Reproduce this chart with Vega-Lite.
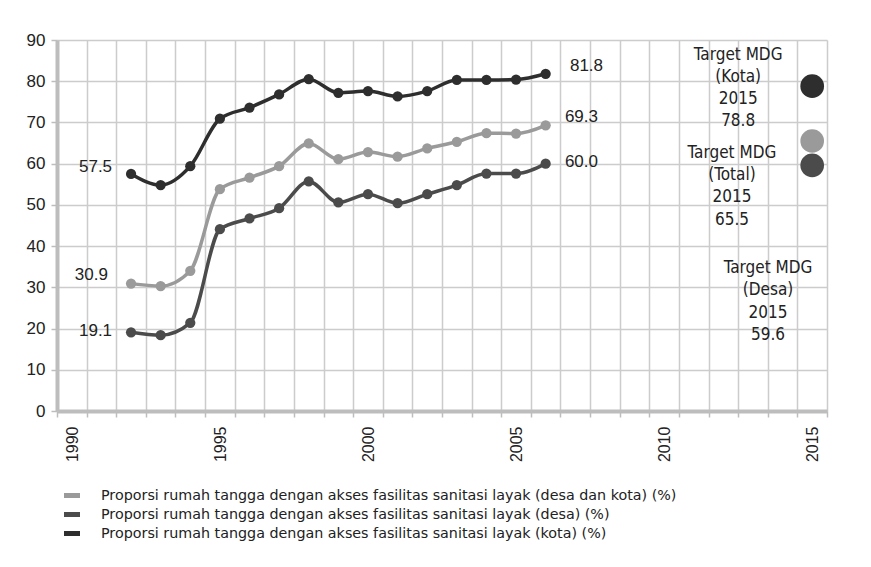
{
  "$schema": "https://vega.github.io/schema/vega-lite/v6.json",
  "width": 770,
  "height": 371,
  "autosize": {"type": "none"},
  "padding": {"left": 57, "top": 40, "right": 44, "bottom": 156},
  "background": "white",
  "datasets": {
    "series": [
      {"series": "Proporsi rumah tangga dengan akses fasilitas sanitasi layak (desa dan kota) (%)", "year": 1992, "value": 30.9},
      {"series": "Proporsi rumah tangga dengan akses fasilitas sanitasi layak (desa dan kota) (%)", "year": 1993, "value": 30.3},
      {"series": "Proporsi rumah tangga dengan akses fasilitas sanitasi layak (desa dan kota) (%)", "year": 1994, "value": 34.0},
      {"series": "Proporsi rumah tangga dengan akses fasilitas sanitasi layak (desa dan kota) (%)", "year": 1995, "value": 53.8},
      {"series": "Proporsi rumah tangga dengan akses fasilitas sanitasi layak (desa dan kota) (%)", "year": 1996, "value": 56.6},
      {"series": "Proporsi rumah tangga dengan akses fasilitas sanitasi layak (desa dan kota) (%)", "year": 1997, "value": 59.4},
      {"series": "Proporsi rumah tangga dengan akses fasilitas sanitasi layak (desa dan kota) (%)", "year": 1998, "value": 64.9},
      {"series": "Proporsi rumah tangga dengan akses fasilitas sanitasi layak (desa dan kota) (%)", "year": 1999, "value": 61.1},
      {"series": "Proporsi rumah tangga dengan akses fasilitas sanitasi layak (desa dan kota) (%)", "year": 2000, "value": 62.8},
      {"series": "Proporsi rumah tangga dengan akses fasilitas sanitasi layak (desa dan kota) (%)", "year": 2001, "value": 61.7},
      {"series": "Proporsi rumah tangga dengan akses fasilitas sanitasi layak (desa dan kota) (%)", "year": 2002, "value": 63.7},
      {"series": "Proporsi rumah tangga dengan akses fasilitas sanitasi layak (desa dan kota) (%)", "year": 2003, "value": 65.3},
      {"series": "Proporsi rumah tangga dengan akses fasilitas sanitasi layak (desa dan kota) (%)", "year": 2004, "value": 67.4},
      {"series": "Proporsi rumah tangga dengan akses fasilitas sanitasi layak (desa dan kota) (%)", "year": 2005, "value": 67.3},
      {"series": "Proporsi rumah tangga dengan akses fasilitas sanitasi layak (desa dan kota) (%)", "year": 2006, "value": 69.3},
      {"series": "Proporsi rumah tangga dengan akses fasilitas sanitasi layak (desa) (%)", "year": 1992, "value": 19.1},
      {"series": "Proporsi rumah tangga dengan akses fasilitas sanitasi layak (desa) (%)", "year": 1993, "value": 18.4},
      {"series": "Proporsi rumah tangga dengan akses fasilitas sanitasi layak (desa) (%)", "year": 1994, "value": 21.4},
      {"series": "Proporsi rumah tangga dengan akses fasilitas sanitasi layak (desa) (%)", "year": 1995, "value": 44.1},
      {"series": "Proporsi rumah tangga dengan akses fasilitas sanitasi layak (desa) (%)", "year": 1996, "value": 46.7},
      {"series": "Proporsi rumah tangga dengan akses fasilitas sanitasi layak (desa) (%)", "year": 1997, "value": 49.2},
      {"series": "Proporsi rumah tangga dengan akses fasilitas sanitasi layak (desa) (%)", "year": 1998, "value": 55.7},
      {"series": "Proporsi rumah tangga dengan akses fasilitas sanitasi layak (desa) (%)", "year": 1999, "value": 50.6},
      {"series": "Proporsi rumah tangga dengan akses fasilitas sanitasi layak (desa) (%)", "year": 2000, "value": 52.6},
      {"series": "Proporsi rumah tangga dengan akses fasilitas sanitasi layak (desa) (%)", "year": 2001, "value": 50.4},
      {"series": "Proporsi rumah tangga dengan akses fasilitas sanitasi layak (desa) (%)", "year": 2002, "value": 52.6},
      {"series": "Proporsi rumah tangga dengan akses fasilitas sanitasi layak (desa) (%)", "year": 2003, "value": 54.8},
      {"series": "Proporsi rumah tangga dengan akses fasilitas sanitasi layak (desa) (%)", "year": 2004, "value": 57.6},
      {"series": "Proporsi rumah tangga dengan akses fasilitas sanitasi layak (desa) (%)", "year": 2005, "value": 57.6},
      {"series": "Proporsi rumah tangga dengan akses fasilitas sanitasi layak (desa) (%)", "year": 2006, "value": 60.0},
      {"series": "Proporsi rumah tangga dengan akses fasilitas sanitasi layak (kota) (%)", "year": 1992, "value": 57.5},
      {"series": "Proporsi rumah tangga dengan akses fasilitas sanitasi layak (kota) (%)", "year": 1993, "value": 54.8},
      {"series": "Proporsi rumah tangga dengan akses fasilitas sanitasi layak (kota) (%)", "year": 1994, "value": 59.4},
      {"series": "Proporsi rumah tangga dengan akses fasilitas sanitasi layak (kota) (%)", "year": 1995, "value": 70.9},
      {"series": "Proporsi rumah tangga dengan akses fasilitas sanitasi layak (kota) (%)", "year": 1996, "value": 73.6},
      {"series": "Proporsi rumah tangga dengan akses fasilitas sanitasi layak (kota) (%)", "year": 1997, "value": 76.8},
      {"series": "Proporsi rumah tangga dengan akses fasilitas sanitasi layak (kota) (%)", "year": 1998, "value": 80.5},
      {"series": "Proporsi rumah tangga dengan akses fasilitas sanitasi layak (kota) (%)", "year": 1999, "value": 77.2},
      {"series": "Proporsi rumah tangga dengan akses fasilitas sanitasi layak (kota) (%)", "year": 2000, "value": 77.6},
      {"series": "Proporsi rumah tangga dengan akses fasilitas sanitasi layak (kota) (%)", "year": 2001, "value": 76.3},
      {"series": "Proporsi rumah tangga dengan akses fasilitas sanitasi layak (kota) (%)", "year": 2002, "value": 77.6},
      {"series": "Proporsi rumah tangga dengan akses fasilitas sanitasi layak (kota) (%)", "year": 2003, "value": 80.3},
      {"series": "Proporsi rumah tangga dengan akses fasilitas sanitasi layak (kota) (%)", "year": 2004, "value": 80.3},
      {"series": "Proporsi rumah tangga dengan akses fasilitas sanitasi layak (kota) (%)", "year": 2005, "value": 80.4},
      {"series": "Proporsi rumah tangga dengan akses fasilitas sanitasi layak (kota) (%)", "year": 2006, "value": 81.8}
    ],
    "targets": [
      {"series": "Proporsi rumah tangga dengan akses fasilitas sanitasi layak (kota) (%)", "year": 2015, "value": 78.8},
      {"series": "Proporsi rumah tangga dengan akses fasilitas sanitasi layak (desa dan kota) (%)", "year": 2015, "value": 65.5},
      {"series": "Proporsi rumah tangga dengan akses fasilitas sanitasi layak (desa) (%)", "year": 2015, "value": 59.6}
    ],
    "labels": [
      {"side": "left", "x": 1991.36, "y": 59.1, "text": "57.5"},
      {"side": "left", "x": 1991.22, "y": 33.1, "text": "30.9"},
      {"side": "left", "x": 1991.36, "y": 19.4, "text": "19.1"},
      {"side": "right", "x": 2006.82, "y": 83.6, "text": "81.8"},
      {"side": "right", "x": 2006.65, "y": 71.3, "text": "69.3"},
      {"side": "right", "x": 2006.65, "y": 60.5, "text": "60.0"}
    ],
    "notes": [
      {"x": 2012.5, "y": 88.4, "text": "Target MDG\n(Kota)\n2015\n78.8"},
      {"x": 2012.29, "y": 64.6, "text": "Target MDG\n(Total)\n2015\n65.5"},
      {"x": 2013.51, "y": 36.6, "text": "Target MDG\n(Desa)\n2015\n59.6"}
    ]
  },
  "layer": [
    {
      "data": {"name": "series"},
      "mark": {"type": "line", "interpolate": "monotone", "strokeWidth": 3.5, "point": {"filled": true, "size": 105, "opacity": 1}},
      "encoding": {
        "x": {
          "field": "year", "type": "quantitative",
          "scale": {"domain": [1989.5, 2015.5], "nice": false, "zero": false},
          "axis": {
            "title": null,
            "values": [1989.5, 1990.5, 1991.5, 1992.5, 1993.5, 1994.5, 1995.5, 1996.5, 1997.5, 1998.5, 1999.5, 2000.5, 2001.5, 2002.5, 2003.5, 2004.5, 2005.5, 2006.5, 2007.5, 2008.5, 2009.5, 2010.5, 2011.5, 2012.5, 2013.5, 2014.5, 2015.5],
            "tickCount": 40,
            "labelExpr": "(datum.value + 0.5) % 5 == 0 ? toString(datum.value + 0.5) : ''",
            "labelAngle": 270,
            "labelAlign": "right",
            "labelBaseline": "middle",
            "labelOffset": 15,
            "labelPadding": 9,
            "labelFontSize": 16,
            "labelOverlap": false,
            "labelBound": false,
            "labelFlush": false,
            "tickSize": 6,
            "grid": true
          }
        },
        "y": {
          "field": "value", "type": "quantitative",
          "scale": {"domain": [0, 90], "nice": false},
          "axis": {
            "title": null,
            "values": [0, 10, 20, 30, 40, 50, 60, 70, 80, 90],
            "labelFontSize": 17,
            "labelPadding": 6,
            "tickSize": 6,
            "grid": true
          }
        },
        "color": {
          "field": "series", "type": "nominal",
          "scale": {
            "domain": [
              "Proporsi rumah tangga dengan akses fasilitas sanitasi layak (desa dan kota) (%)",
              "Proporsi rumah tangga dengan akses fasilitas sanitasi layak (desa) (%)",
              "Proporsi rumah tangga dengan akses fasilitas sanitasi layak (kota) (%)"
            ],
            "range": ["#9a9a9a", "#4b4b4b", "#2e2e2e"]
          },
          "legend": {
            "title": null,
            "orient": "none",
            "legendX": 7,
            "legendY": 446,
            "symbolType": "M-1.7,0L1.7,0",
            "symbolSize": 100,
            "symbolStrokeWidth": 5,
            "labelFontSize": 14.3,
            "labelFont": "DejaVu Sans",
            "labelColor": "#222222",
            "labelOffset": 22,
            "labelLimit": 900,
            "rowPadding": 0,
            "clipHeight": 19,
            "padding": 0
          }
        }
      }
    },
    {
      "data": {"name": "targets"},
      "mark": {"type": "circle", "size": 560, "opacity": 1},
      "encoding": {
        "x": {"field": "year", "type": "quantitative"},
        "y": {"field": "value", "type": "quantitative"},
        "color": {"field": "series", "type": "nominal", "legend": null}
      }
    },
    {
      "data": {"name": "labels"},
      "transform": [{"filter": "datum.side == 'left'"}],
      "mark": {"type": "text", "align": "right", "baseline": "middle", "fontSize": 17, "font": "Liberation Sans", "color": "#222222"},
      "encoding": {
        "x": {"field": "x", "type": "quantitative"},
        "y": {"field": "y", "type": "quantitative"},
        "text": {"field": "text", "type": "nominal"}
      }
    },
    {
      "data": {"name": "labels"},
      "transform": [{"filter": "datum.side == 'right'"}],
      "mark": {"type": "text", "align": "left", "baseline": "middle", "fontSize": 17, "font": "Liberation Sans", "color": "#222222"},
      "encoding": {
        "x": {"field": "x", "type": "quantitative"},
        "y": {"field": "y", "type": "quantitative"},
        "text": {"field": "text", "type": "nominal"}
      }
    },
    {
      "data": {"name": "notes"},
      "mark": {"type": "text", "align": "center", "baseline": "top", "lineBreak": "\n", "lineHeight": 22.3, "fontSize": 17, "font": "DejaVu Sans Condensed, Liberation Sans", "color": "#222222"},
      "encoding": {
        "x": {"field": "x", "type": "quantitative"},
        "y": {"field": "y", "type": "quantitative"},
        "text": {"field": "text", "type": "nominal"}
      }
    }
  ],
  "config": {
    "view": {"stroke": null},
    "axis": {
      "domainColor": "#bdbdbd",
      "domainWidth": 4,
      "gridColor": "#cccccc",
      "gridWidth": 1.5,
      "tickColor": "#bdbdbd",
      "tickWidth": 1.5,
      "labelColor": "#222222",
      "labelFont": "Liberation Sans"
    }
  }
}
